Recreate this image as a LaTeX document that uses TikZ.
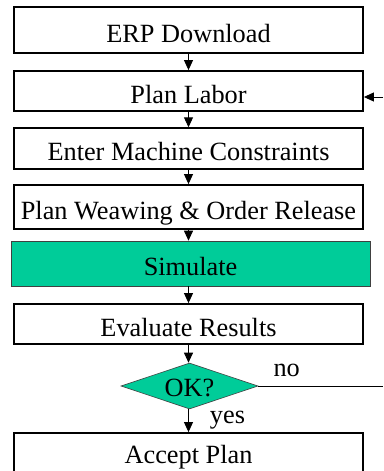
\documentclass[tikz,border=0pt]{standalone}
\usepackage{fontspec}
\setmainfont{Liberation Serif}
\usetikzlibrary{arrows.meta,shapes.geometric}
\definecolor{simgreen}{HTML}{00CC99}
\tikzset{
  x=1pt, y=-1pt,
  stepfont/.style={font=\fontsize{26.3pt}{29pt}\selectfont},
  stepbox/.style={draw=black, line width=1.8pt, fill=white, minimum width=349pt,
    inner sep=0pt, text height=24pt, text depth=0pt, stepfont},
  simbox/.style={draw=black!75, line width=0.6pt, fill=simgreen, minimum width=359pt,
    inner sep=0pt, text height=23pt, text depth=0pt, stepfont},
  decision/.style={diamond, draw=black!75, line width=0.6pt, fill=simgreen, aspect=3,
    inner sep=0pt, minimum width=137pt, minimum height=46pt},
  flow/.style={line width=0.9pt, -{Triangle[length=10pt,width=9pt]}},
  link/.style={line width=0.9pt},
  lbl/.style={anchor=base, inner sep=0pt, stepfont},
}
\begin{document}
\begin{tikzpicture}
\useasboundingbox (0,0) rectangle (383,471);
\node[stepbox, minimum height=46pt] (erp) at (188.5,30) {ERP Download};
\node[stepbox, minimum height=40pt] (labor) at (188.5,91) {Plan Labor};
\node[stepbox, minimum height=41pt] (machine) at (188.5,148.7) {Enter Machine Constraints};
\node[stepbox, minimum height=44pt] (weave) at (188.5,207) {Plan Weawing \& Order Release};
\node[simbox, minimum height=45pt] (sim) at (190.5,263.5) {Simulate};
\node[stepbox, minimum height=40pt] (eval) at (188.5,324) {Evaluate Results};
\node[decision] (ok) at (189.5,386) {};
\node[lbl] (oktext) at (189.5,396) {OK?};
\node[stepbox, minimum height=46pt, text height=14pt] (accept) at (188.5,456) {Accept Plan};
\coordinate (noend) at (383,386);
\coordinate (backin) at (383,97);
\draw[flow] (erp.south) -- (labor.north);
\draw[flow] (labor.south) -- (machine.north);
\draw[flow] (machine.south) -- (weave.north);
\draw[flow] (weave.south) -- (sim.north -| weave.south);
\draw[flow] (sim.south -| weave.south) -- (eval.north);
\draw[flow] (eval.south) -- (ok.north -| eval.south);
\draw[flow] (ok.south -| eval.south) -- (accept.north);
\draw[link] (ok.east) -- (noend);
\draw[flow] (backin) -- (backin -| labor.east);
\node[lbl] (nolbl) at (286.7,376.7) {no};
\node[lbl] (yeslbl) at (227.5,423) {yes};
\end{tikzpicture}
\end{document}
